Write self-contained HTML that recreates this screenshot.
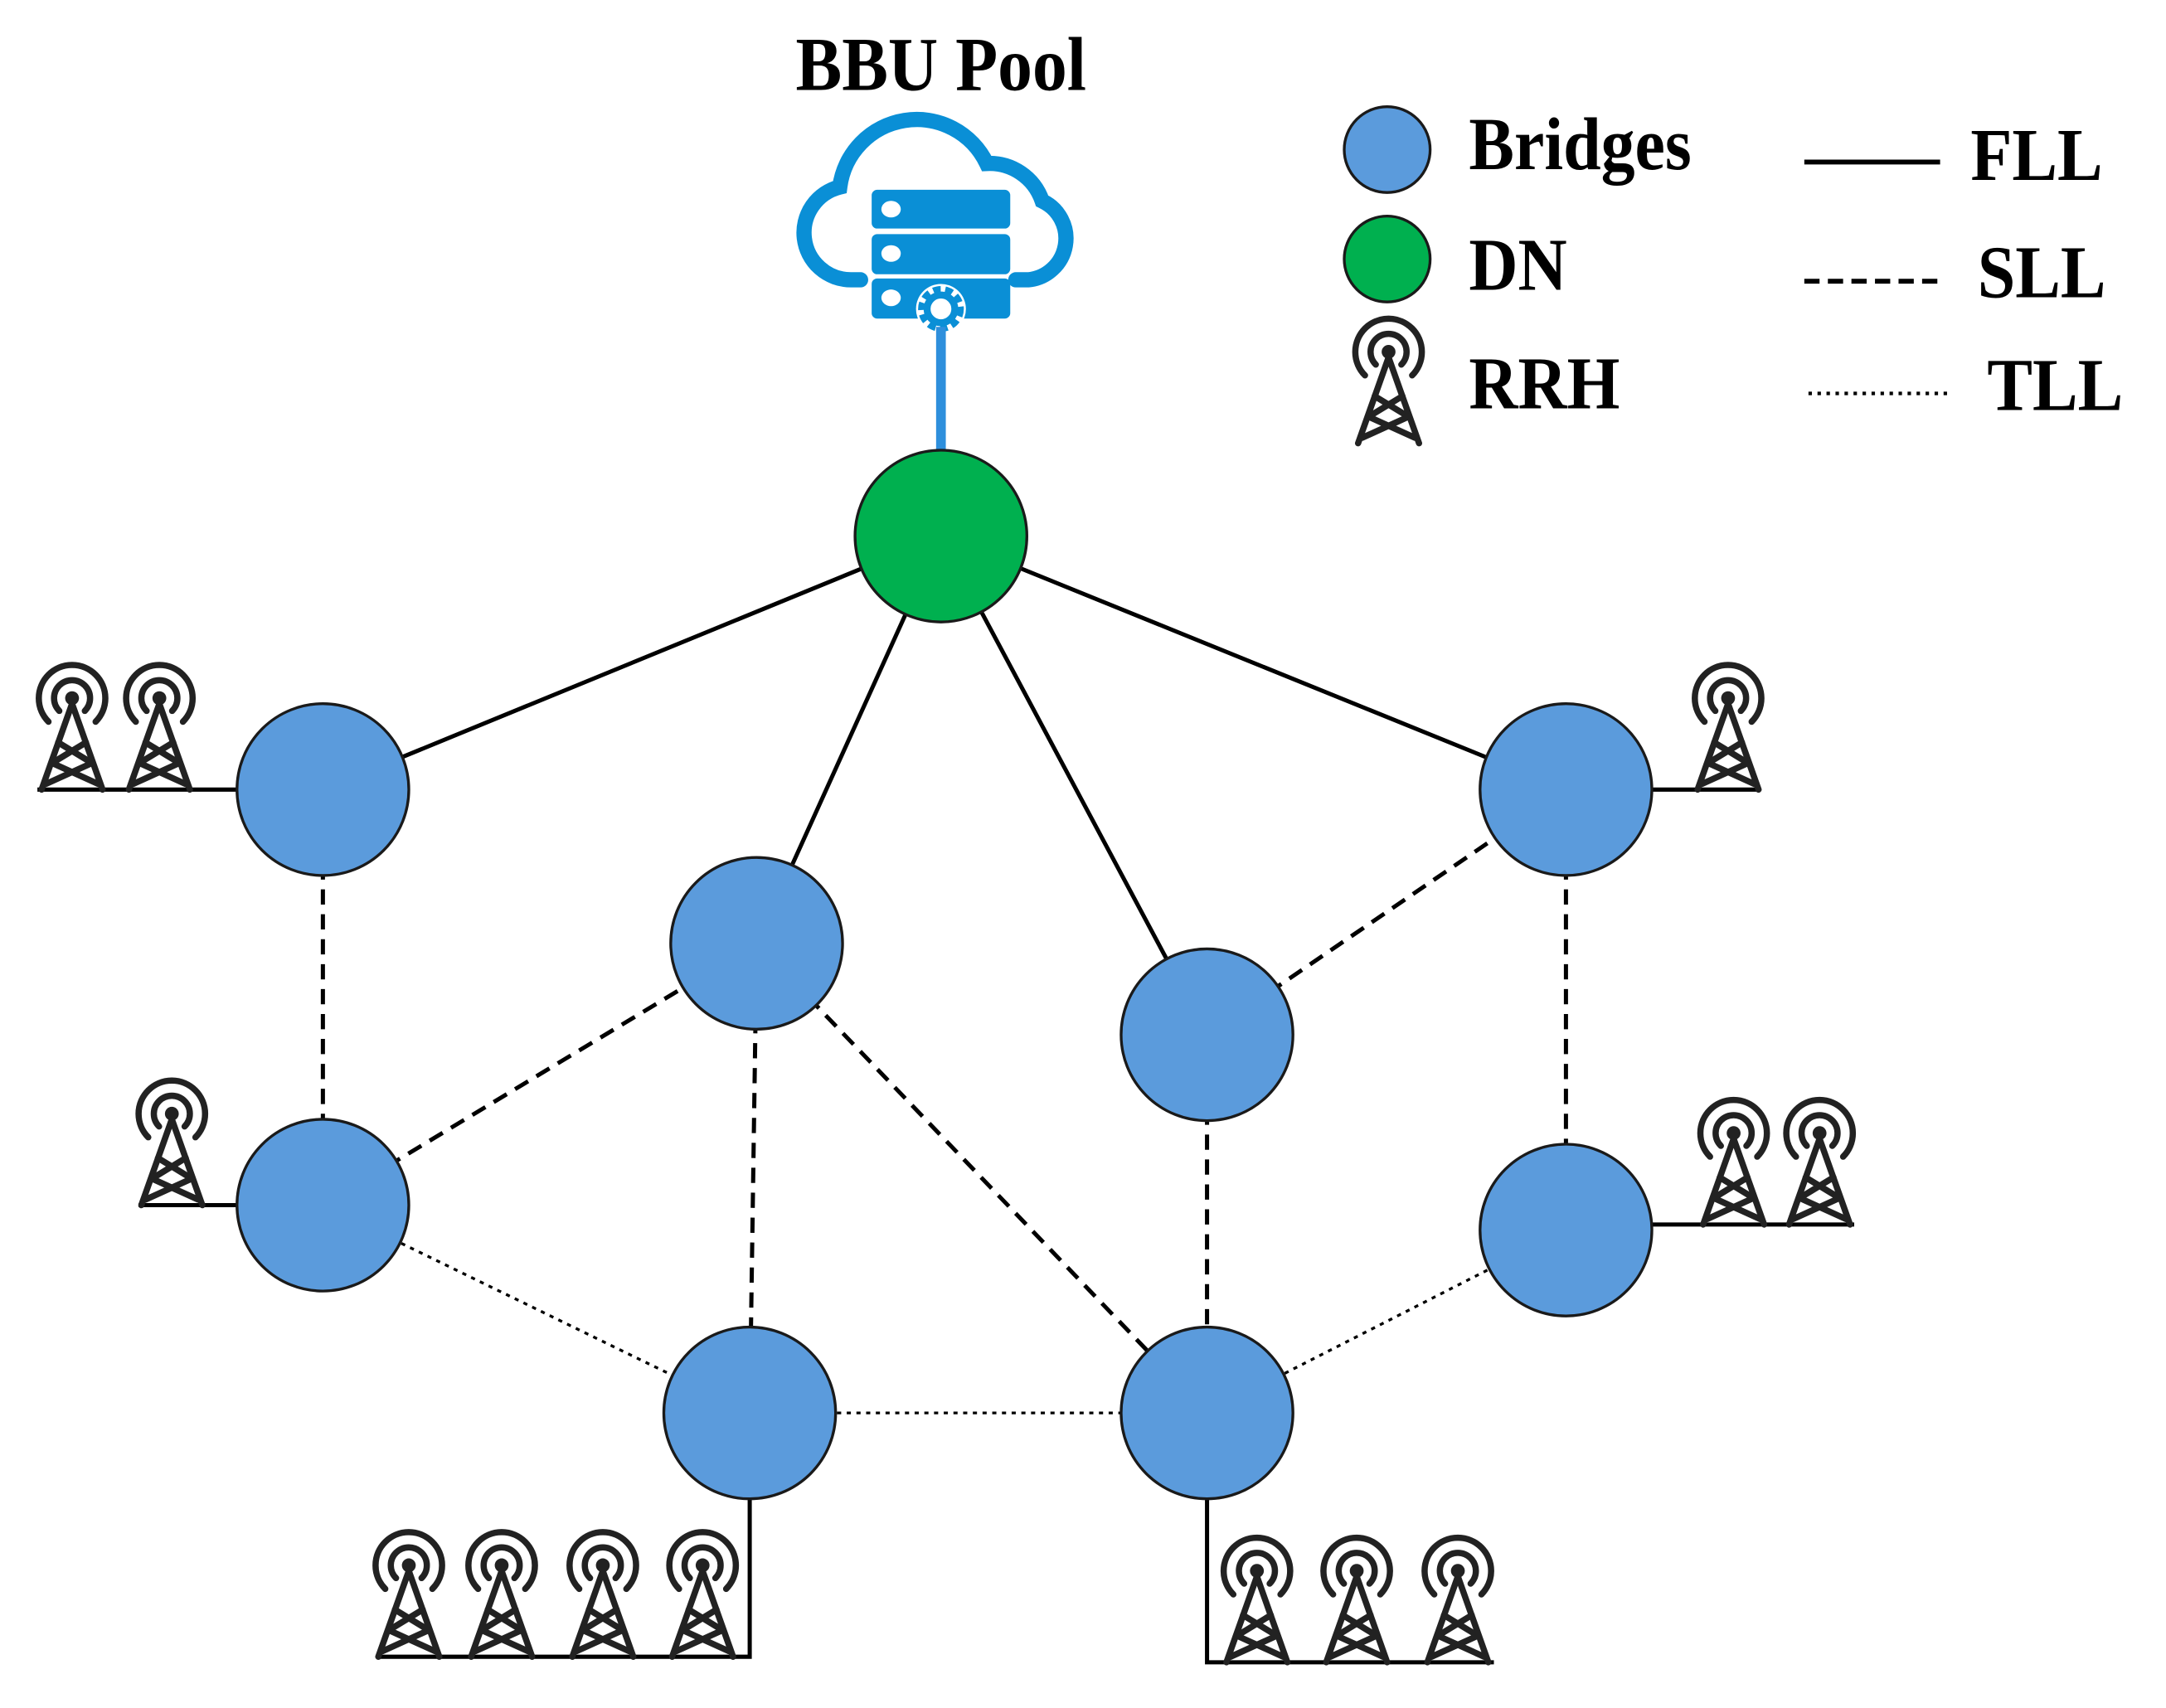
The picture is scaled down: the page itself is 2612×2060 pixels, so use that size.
<!DOCTYPE html>
<html><head><meta charset="utf-8"><style>
html,body{margin:0;padding:0;background:#fff;}
svg{display:block;}
text{font-family:"Liberation Serif",serif;font-weight:bold;fill:#000;}
</style></head><body>
<svg width="2612" height="2060" viewBox="0 0 1563 1233" preserveAspectRatio="none" xmlns="http://www.w3.org/2000/svg">
<defs>
<g id="t" fill="none" stroke="#222" stroke-width="4.5" stroke-linecap="round" stroke-linejoin="round">
<circle cx="0" cy="-66" r="5" fill="#222" stroke="none"/>
<path d="M-9.2,-56.8 A13,13 0 1 1 9.2,-56.8"/>
<path d="M-17,-49 A24,24 0 1 1 17,-49"/>
<path d="M-22,0 L0,-62 L22,0"/>
<path d="M-10,-34 L13,-20 M10,-34 L-13,-20 M-14,-19 L19,-4 M14,-19 L-19,-4"/>
</g>
</defs>

<!-- title -->
<text x="679" y="65" font-size="50" text-anchor="middle" transform="translate(679 65) scale(1,1.1) translate(-679 -65)">BBU Pool</text>

<!-- cloud -->
<path d="M621,202 L614,202 A34,34 0 0 1 606,135 A56,56 0 0 1 712,118 A40,40 0 0 1 752,145 A30,30 0 0 1 742,202 L733,202" fill="none" stroke="#0a8fd6" stroke-width="11" stroke-linecap="round"/>
<g fill="#0a8fd6">
<rect x="629" y="137" width="100" height="28" rx="4"/>
<rect x="629" y="169" width="100" height="29" rx="4"/>
<rect x="629" y="201" width="100" height="29" rx="4"/>
</g>
<g fill="#fff">
<ellipse cx="643" cy="151" rx="7" ry="6"/>
<ellipse cx="643" cy="183" rx="7" ry="6"/>
<ellipse cx="643" cy="215" rx="7" ry="6"/>
</g>
<circle cx="679" cy="223" r="18" fill="#fff"/>
<circle cx="679" cy="223" r="13" fill="none" stroke="#0a8fd6" stroke-width="7" stroke-dasharray="5 3"/>
<circle cx="679" cy="223" r="10" fill="none" stroke="#0a8fd6" stroke-width="5"/>
<line x1="679" y1="236" x2="679" y2="326" stroke="#2e8fdc" stroke-width="7"/>

<!-- connectors -->
<g stroke="#000" stroke-width="3" fill="none">
<line x1="679" y1="387" x2="233" y2="570"/>
<line x1="679" y1="387" x2="546" y2="681"/>
<line x1="679" y1="387" x2="871" y2="747"/>
<line x1="679" y1="387" x2="1130" y2="570"/>
</g>
<g stroke="#000" stroke-width="3" fill="none" stroke-dasharray="11 7">
<line x1="233" y1="570" x2="233" y2="870"/>
<line x1="233" y1="870" x2="546" y2="681"/>
<line x1="546" y1="681" x2="541" y2="1020"/>
<line x1="546" y1="681" x2="871" y2="1020"/>
<line x1="871" y1="747" x2="871" y2="1020"/>
<line x1="871" y1="747" x2="1130" y2="570"/>
<line x1="1130" y1="570" x2="1130" y2="888"/>
</g>
<g stroke="#000" stroke-width="2" fill="none" stroke-dasharray="3 4">
<line x1="233" y1="870" x2="541" y2="1020"/>
<line x1="541" y1="1020" x2="871" y2="1020"/>
<line x1="871" y1="1020" x2="1130" y2="888"/>
</g>

<!-- antenna base lines -->
<g stroke="#000" stroke-width="3" fill="none">
<line x1="27" y1="570" x2="200" y2="570"/>
<line x1="100" y1="870" x2="200" y2="870"/>
<line x1="1170" y1="570" x2="1270" y2="570"/>
<line x1="1170" y1="884" x2="1338" y2="884"/>
<path d="M272,1196 L541,1196 L541,1060"/>
<path d="M871,1060 L871,1200 L1078,1200"/>
</g>

<!-- nodes -->
<circle cx="679" cy="387" r="62" fill="#00b04f" stroke="#1a1a1a" stroke-width="2"/>
<g fill="#5b9bdc" stroke="#1a1a1a" stroke-width="2">
<circle cx="233" cy="570" r="62"/>
<circle cx="546" cy="681" r="62"/>
<circle cx="1130" cy="570" r="62"/>
<circle cx="871" cy="747" r="62"/>
<circle cx="233" cy="870" r="62"/>
<circle cx="1130" cy="888" r="62"/>
<circle cx="541" cy="1020" r="62"/>
<circle cx="871" cy="1020" r="62"/>
</g>

<!-- towers -->
<use href="#t" x="52" y="570"/>
<use href="#t" x="115" y="570"/>
<use href="#t" x="124" y="870"/>
<use href="#t" x="1247" y="570"/>
<use href="#t" x="1251" y="884"/>
<use href="#t" x="1313" y="884"/>
<use href="#t" x="295" y="1196"/>
<use href="#t" x="362" y="1196"/>
<use href="#t" x="435" y="1196"/>
<use href="#t" x="507" y="1196"/>
<use href="#t" x="907" y="1200"/>
<use href="#t" x="979" y="1200"/>
<use href="#t" x="1052" y="1200"/>

<!-- legend -->
<circle cx="1001" cy="108" r="31" fill="#5b9bdc" stroke="#1a1a1a" stroke-width="2"/>
<circle cx="1001" cy="187" r="31" fill="#00b04f" stroke="#1a1a1a" stroke-width="2"/>
<use href="#t" x="1002" y="320"/>
<g transform="translate(0 -12) scale(1,1.1)">
<text x="1060" y="122" font-size="49">Bridges</text>
<text x="1060" y="201" font-size="49">DN</text>
<text x="1060" y="279" font-size="49">RRH</text>
<text x="1422" y="129" font-size="49">FLL</text>
<text x="1427" y="206" font-size="49">SLL</text>
<text x="1434" y="280" font-size="49">TLL</text>
</g>
<line x1="1302" y1="117" x2="1400" y2="117" stroke="#000" stroke-width="3.5"/>
<line x1="1302" y1="203" x2="1400" y2="203" stroke="#000" stroke-width="3.5" stroke-dasharray="11 6"/>
<line x1="1305" y1="284" x2="1405" y2="284" stroke="#000" stroke-width="2.5" stroke-dasharray="2.5 4"/>
</svg>
</body></html>
